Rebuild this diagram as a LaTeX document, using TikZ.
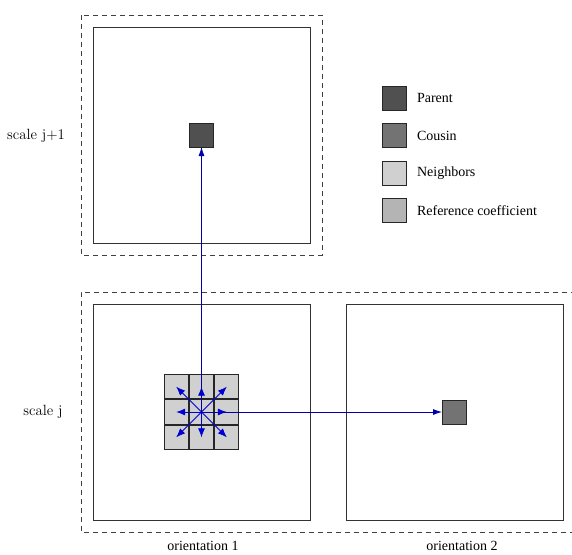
\documentclass[tikz,border=0pt]{standalone}
\usepackage{fontspec}
\newfontfamily\timesfont{Liberation Serif}
\usetikzlibrary{matrix,arrows.meta,positioning}

\definecolor{parentgray}{RGB}{80,80,80}
\definecolor{cousingray}{RGB}{115,115,115}
\definecolor{neighgray}{RGB}{208,208,208}
\definecolor{refgray}{RGB}{180,180,180}
\definecolor{linkblue}{RGB}{0,0,170}
\definecolor{nbblue}{RGB}{0,0,210}

\tikzset{
	band/.style={draw=black!75, dash pattern=on 5pt off 4pt, line width=0.8pt},
	subband/.style={draw=black!80, line width=1pt, minimum width=217pt, minimum height=216pt, inner sep=0pt},
	coef/.style={draw=black!85, line width=0.8pt, minimum size=24pt, inner sep=0pt, outer sep=0pt},
	link/.style={-{Latex[length=9pt,width=6pt]}, linkblue, line width=0.8pt},
	nblink/.style={-{Latex[length=9pt,width=7pt]}, nbblue, line width=0.8pt},
	lbl/.style={font=\timesfont\fontsize{14}{16}\selectfont},
	scalelbl/.style={font=\fontsize{14.8}{17}\selectfont},
}

\begin{document}
\begin{tikzpicture}[x=1pt,y=-1pt]
\useasboundingbox (0,0) rectangle (572,554);
% dashed frames of the two scales
\draw[band] (81,15) rectangle (322,255);
\draw[band] (576,292) -| (81,532) -- (576,532);
% subbands
\node[subband] (top) at (201.5,135) {};
\node[subband] (or1) at (201.5,412) {};
\node[subband] (or2) at (454.5,412) {};
\node[coef, fill=parentgray] (parent) at (top.center) {};
\node[coef, fill=cousingray] (cousin) at (454,412) {};
\matrix (m) [matrix of nodes, nodes in empty cells, nodes={coef, fill=neighgray, minimum size=24.3pt, line width=1pt}, column sep=0pt, row sep=0pt] at (201.5,412)
{
	& & \\
	& & \\
	& & \\
};
\path[nblink]
(m-2-2.center) edge (m-1-1.center)
edge (m-1-2.center)
edge (m-1-3.center)
edge (m-2-1.center)
edge (m-2-3.center)
edge (m-3-1.center)
edge (m-3-2.center)
edge (m-3-3.center)
;
\draw[link] (m-2-2.center) -- (parent);
\draw[link] (m-2-2.center) -- (cousin);
% labels
\node[scalelbl] (sj1) at (36,136) {scale j+1};
\node[scalelbl] (sj) at (43,412) {scale j};
\node[lbl] (o1) at (203,546) {orientation 1};
\node[lbl] (o2) at (462,546) {orientation 2};
% legend
\node[coef, fill=parentgray] (kparent) at (394.5,98) {};
\node[coef, fill=cousingray, below=13.5pt of kparent] (kcousin) {};
\node[coef, fill=neighgray, below=13.5pt of kcousin] (kneigh) {};
\node[coef, fill=refgray, below=13.5pt of kneigh] (kref) {};
\node[lbl, right=7pt of kparent] (tparent) {Parent};
\node[lbl, right=7pt of kcousin] (tcousin) {Cousin};
\node[lbl, right=7pt of kneigh] (tneigh) {Neighbors};
\node[lbl, right=7pt of kref] (tref) {Reference coefficient};
\end{tikzpicture}
\end{document}
